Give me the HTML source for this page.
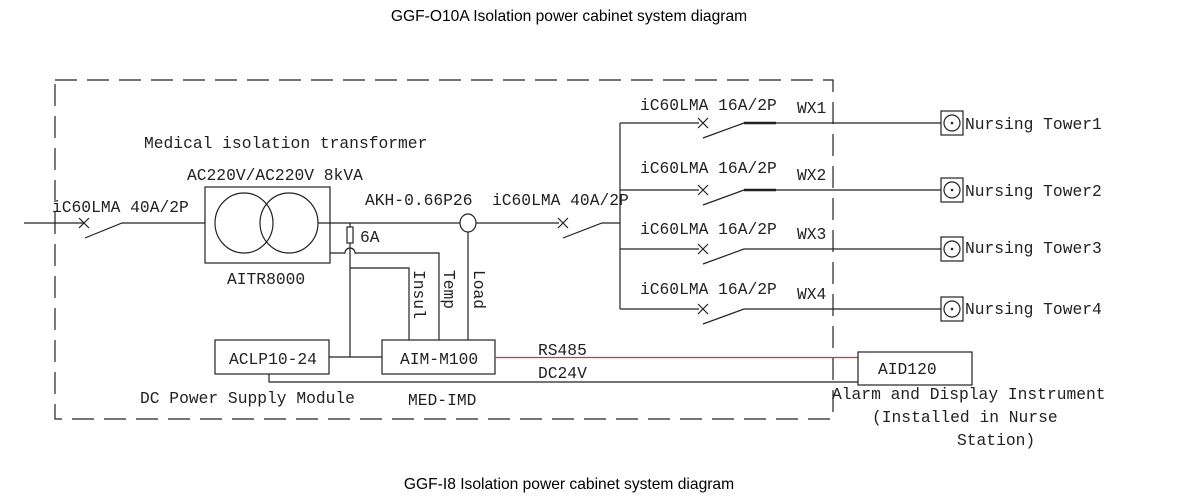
<!DOCTYPE html>
<html><head><meta charset="utf-8"><style>
html,body{margin:0;padding:0;background:#fff;}
svg{display:block;}
.m{font-family:"Liberation Mono","DejaVu Sans Mono",monospace;font-size:16.3px;fill:#222;}
.t{font-family:"Liberation Sans",Arial,sans-serif;font-size:15.6px;fill:#000;}
</style></head><body>
<svg width="1178" height="496" viewBox="0 0 1178 496" xmlns="http://www.w3.org/2000/svg">
<text class="t" x="569" y="21" text-anchor="middle">GGF-O10A Isolation power cabinet system diagram</text>
<text class="t" x="569" y="489" text-anchor="middle">GGF-I8 Isolation power cabinet system diagram</text>
<g fill="none" stroke="#222" stroke-width="1.2">
<rect x="55" y="80" width="778" height="339" stroke-dasharray="22,10"/>
<path d="M24 223H84M85 238L122 223H205"/>
<path d="M79 218l10 10M89 218l-10 10"/>
<rect x="205" y="187" width="125" height="76"/>
<ellipse cx="244" cy="223" rx="29" ry="30"/>
<ellipse cx="289" cy="223" rx="29" ry="30"/>
<path d="M318 223H460"/>
<ellipse cx="468" cy="223" rx="8" ry="9"/>
<path d="M476 223H559M563 238L602 223H620"/>
<path d="M558 218l10 10M568 218l-10 10"/>
<rect x="347" y="227" width="6" height="16"/>
<path d="M350 223V227M350 243V248M330 253H345A5 5 0 0 1 355 253H439V340"/>
<path d="M350 248V357M350 268H409V340M468 232V340"/>
<rect x="215" y="340" width="114" height="34"/>
<rect x="382" y="340" width="113" height="34"/>
<path d="M329 357H382M269 374V382H858"/>
<path d="M620 123V309"/>
</g>
<path d="M495 357.5H858" stroke="#e03030" stroke-width="1.2"/>
<g fill="none" stroke="#222" stroke-width="1.2">
<path d="M620 123H699M703 138L744 123H941"/><path d="M744 123H776" stroke-width="2.5"/>
<path d="M698 118l10 10M708 118l-10 10"/>
<rect x="941" y="111" width="22" height="24"/><circle cx="952" cy="123" r="8"/>
<path d="M620 190H699M703 205L744 190H941"/><path d="M744 190H776" stroke-width="2.5"/>
<path d="M698 185l10 10M708 185l-10 10"/>
<rect x="941" y="178" width="22" height="24"/><circle cx="952" cy="190" r="8"/>
<path d="M620 249H699M703 264L744 249H941"/>
<path d="M698 244l10 10M708 244l-10 10"/>
<rect x="941" y="237" width="22" height="24"/><circle cx="952" cy="249" r="8"/>
<path d="M620 309H699M703 324L744 309H941"/>
<path d="M698 304l10 10M708 304l-10 10"/>
<rect x="941" y="297" width="22" height="24"/><circle cx="952" cy="309" r="8"/>
<rect x="858" y="352" width="114" height="33"/>
</g>
<g fill="#222"><circle cx="952" cy="123" r="1.3"/><circle cx="952" cy="190" r="1.3"/><circle cx="952" cy="249" r="1.3"/><circle cx="952" cy="309" r="1.3"/></g>
<g class="m">
<text x="144" y="148">Medical isolation transformer</text>
<text x="187" y="180">AC220V/AC220V 8kVA</text>
<text x="52" y="212">iC60LMA 40A/2P</text>
<text x="365" y="205">AKH-0.66P26</text>
<text x="492" y="205">iC60LMA 40A/2P</text>
<text x="227" y="284">AITR8000</text>
<text x="360" y="242">6A</text>
<text transform="translate(414,270) rotate(90)">Insul</text>
<text transform="translate(444,270) rotate(90)">Temp</text>
<text transform="translate(474,270) rotate(90)">Load</text>
<text x="229" y="364">ACLP10-24</text>
<text x="400" y="364">AIM-M100</text>
<text x="538" y="355">RS485</text>
<text x="538" y="378">DC24V</text>
<text x="140" y="403">DC Power Supply Module</text>
<text x="408" y="405">MED-IMD</text>
<text x="640" y="110">iC60LMA 16A/2P</text>
<text x="640" y="173">iC60LMA 16A/2P</text>
<text x="640" y="234">iC60LMA 16A/2P</text>
<text x="640" y="294">iC60LMA 16A/2P</text>
<text x="797" y="113">WX1</text>
<text x="797" y="180">WX2</text>
<text x="797" y="239">WX3</text>
<text x="797" y="299">WX4</text>
<text x="965" y="129">Nursing Tower1</text>
<text x="965" y="196">Nursing Tower2</text>
<text x="965" y="253">Nursing Tower3</text>
<text x="965" y="314">Nursing Tower4</text>
<text x="878" y="374">AID120</text>
<text x="832" y="399">Alarm and Display Instrument</text>
<text x="872" y="422">(Installed in Nurse</text>
<text x="957" y="445">Station)</text>
</g>
</svg>
</body></html>
